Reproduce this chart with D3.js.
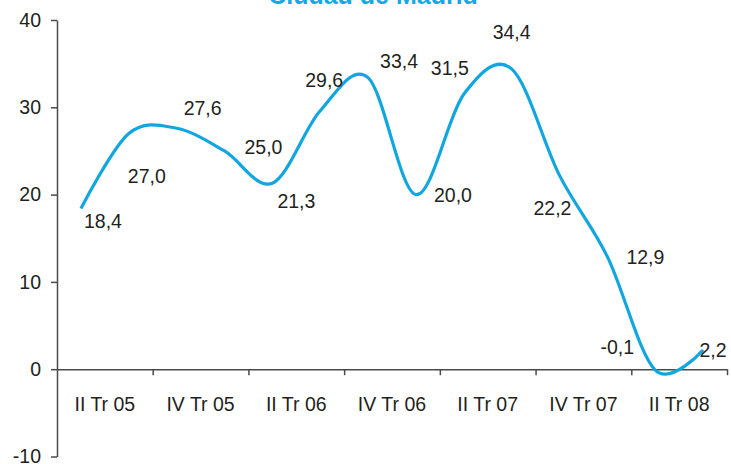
<!DOCTYPE html>
<html>
<head>
<meta charset="utf-8">
<script src="https://cdn.jsdelivr.net/npm/d3@7"></script>
<style>
  html, body { margin: 0; padding: 0; background: #fff; }
  svg { display: block; font-family: "Liberation Sans", Arial, sans-serif; }
</style>
</head>
<body>
<svg id="chart" width="731" height="464"></svg>
<script>
// Quarterly series, Ciudad de Madrid
const quarters = ["II Tr 05", "III Tr 05", "IV Tr 05", "I Tr 06", "II Tr 06", "III Tr 06", "IV Tr 06",
                  "I Tr 07", "II Tr 07", "III Tr 07", "IV Tr 07", "I Tr 08", "II Tr 08", "III Tr 08"];
const values = [18.4, 27.0, 27.6, 25.0, 21.3, 29.6, 33.4, 20.0, 31.5, 34.4, 22.2, 12.9, -0.1, 2.2];
const yTicks = [-10, 0, 10, 20, 30, 40];
const titleText = "Ciudad de Madrid";

// Where each value label sits relative to its point (dx, dy of the text centre)
const labelOffsets = [[22, 12], [18, 42], [26, -20], [39, -4], [24, 18], [4, -31], [31, -17],
                      [37, 0], [-14, -26], [0, -37], [-7, 33], [38, 0], [-38, -23], [10, 0]];

const esLocale = d3.formatLocale({ decimal: ",", thousands: ".", grouping: [3], currency: ["", " €"], minus: "-" });
const fmtValue = esLocale.format(".1f");
const fmtTick = esLocale.format("d");

const svg = d3.select("#chart");
const plotLeft = 57, plotRight = 727, plotTop = 20, plotBottom = 456.5;

const x = d3.scaleBand().domain(quarters).range([plotLeft, plotRight]).paddingInner(0).paddingOuter(0);
const xIdx = d3.scaleLinear().domain([0, quarters.length]).range([plotLeft, plotRight]);
const y = d3.scaleLinear().domain([-10, 40]).range([plotBottom, plotTop]);
const cx = q => x(q) + x.bandwidth() / 2;

const axisColor = "#4a4a4a";
const textColor = "#231f20";

// Title (runs off the top edge)
svg.append("text")
  .attr("x", 373).attr("y", 4)
  .attr("text-anchor", "middle")
  .attr("font-weight", "bold")
  .attr("font-size", 25)
  .attr("fill", "#13a9e3")
  .text(titleText);

// Y axis
const yAxis = svg.append("g")
  .attr("transform", `translate(${plotLeft},0)`)
  .call(d3.axisLeft(y).tickValues(yTicks).tickFormat(fmtTick).tickSize(6).tickSizeOuter(0).tickPadding(10));
yAxis.select(".domain").attr("stroke", axisColor).attr("stroke-width", 1.5);
yAxis.selectAll(".tick line").attr("stroke", axisColor).attr("stroke-width", 1.5);
yAxis.selectAll(".tick text").attr("font-size", 19.5).attr("fill", textColor)
  .attr("font-family", "'Liberation Sans', Arial, sans-serif");

// X axis along zero, ticks every two quarters
const xTickVals = d3.range(0, quarters.length + 1, 2);
const xAxis = svg.append("g")
  .attr("transform", `translate(0,${y(0)})`)
  .call(d3.axisBottom(xIdx).tickValues(xTickVals).tickFormat("").tickSize(6).tickSizeOuter(0));
xAxis.select(".domain").attr("stroke", axisColor).attr("stroke-width", 1.5);
xAxis.selectAll(".tick line").attr("stroke", axisColor).attr("stroke-width", 1.5);
xAxis.selectAll(".tick").filter(d => d === 0).select("line").remove();

// Category labels centred under each pair of quarters
svg.append("g").selectAll("text")
  .data(quarters.filter((q, i) => i % 2 === 0))
  .join("text")
  .attr("x", (q, i) => xIdx(2 * i + 1))
  .attr("y", 411)
  .attr("text-anchor", "middle")
  .attr("font-size", 19.5)
  .attr("fill", textColor)
  .text(q => q);

// Smoothed line
const line = d3.line()
  .x((v, i) => cx(quarters[i]))
  .y(v => y(v))
  .curve(d3.curveCatmullRom.alpha(0));

svg.append("path")
  .datum(values)
  .attr("d", line)
  .attr("fill", "none")
  .attr("stroke", "#12a6e0")
  .attr("stroke-width", 3.2)
  .attr("stroke-linejoin", "round")
  .attr("stroke-linecap", "butt");

// Value labels
svg.append("g").selectAll("text")
  .data(values)
  .join("text")
  .attr("x", (v, i) => cx(quarters[i]) + labelOffsets[i][0])
  .attr("y", (v, i) => y(v) + labelOffsets[i][1])
  .attr("dy", "0.36em")
  .attr("text-anchor", "middle")
  .attr("font-size", 19.5)
  .attr("fill", textColor)
  .text(v => fmtValue(v));
</script>
</body>
</html>
